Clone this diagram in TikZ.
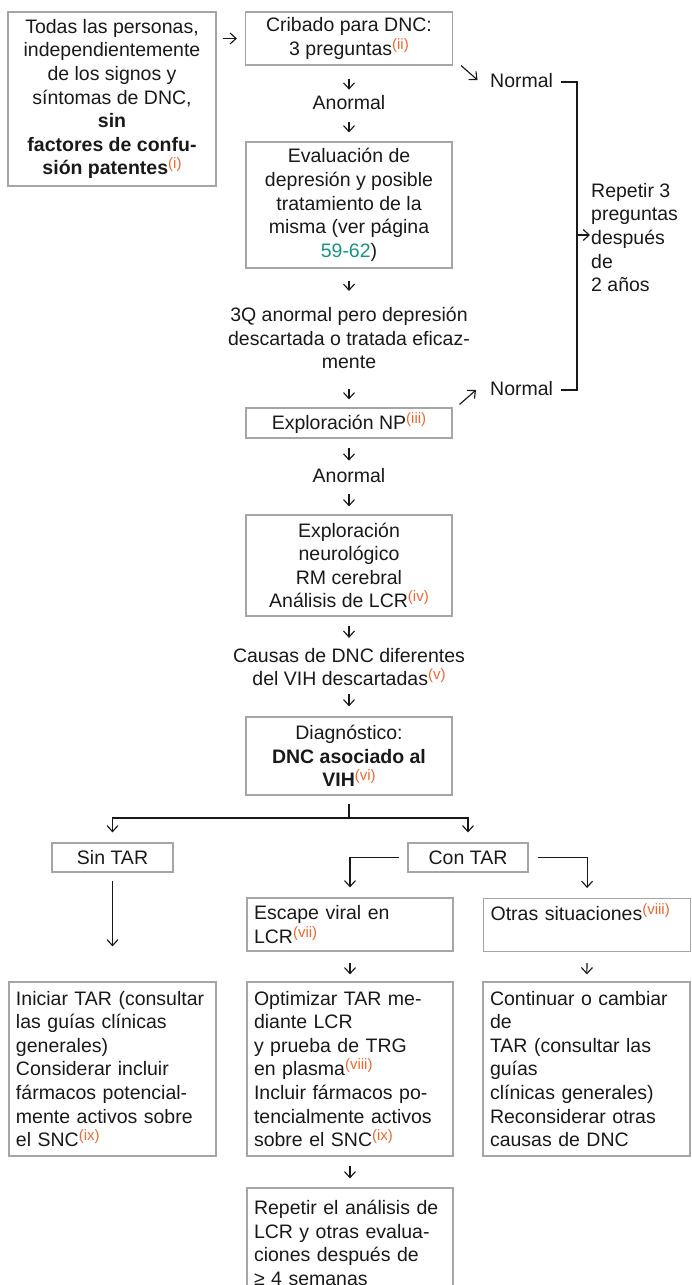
\documentclass[tikz,border=0pt]{standalone}
\usepackage{fontspec}
\setmainfont{Liberation Sans}
\usetikzlibrary{arrows.meta}

\definecolor{boxgray}{RGB}{165,165,165}
\definecolor{ink}{RGB}{25,25,25}
\definecolor{noteorange}{RGB}{238,104,45}
\definecolor{pageteal}{RGB}{22,150,128}

% raised, coloured footnote marker
\newcommand\noteref[1]{\raisebox{6pt}{\fontsize{15}{15}\selectfont\color{noteorange}#1}}

\begin{document}
\begin{tikzpicture}[x=1pt, y=-1pt,
  every node/.style={font=\fontsize{19.5}{23.6}\selectfont, text=ink},
  box/.style={draw=boxgray, line width=1.2pt, inner sep=0pt},
  cbox/.style={box, align=center},
  lbox/.style={box, align=left, inner xsep=7pt, inner ysep=0pt, text width=#1},
  plain/.style={inner sep=0pt, align=center},
  conn/.style={draw=ink, line width=1.15pt},
  arr/.style={conn, -{Straight Barb[length=6pt,width=11pt]}},
]
\useasboundingbox (0,0) rectangle (691,1285);

% ---------- screening and work-up column ----------
\node[cbox, minimum width=208pt, minimum height=174pt] (all) at (112,99)
  {Todas las personas,\\independientemente\\de los signos y\\síntomas de DNC,\\\textbf{sin}\\\textbf{factores de confu-}\\\textbf{sión patentes}\noteref{(i)}};
\node[cbox, minimum width=207pt, minimum height=53pt] (screen) at (349,38.5)
  {Cribado para DNC:\\3 preguntas\noteref{(ii)}};
\node[plain] (abn1) at (349,103) {Anormal};
\node[cbox, minimum width=206pt, minimum height=126pt] (depr) at (349,205)
  {Evaluación de\\depresión y posible\\tratamiento de la\\misma (ver página\\{\color{pageteal}59-62})};
\node[plain] (ruled) at (349,338)
  {3Q anormal pero depresión\\descartada o tratada eficaz-\\mente};
\node[cbox, minimum width=206pt, minimum height=30pt] (np) at (349,423)
  {Exploración NP\noteref{(iii)}};
\node[plain] (abn2) at (349,476) {Anormal};
\node[cbox, minimum width=206pt, minimum height=101pt] (neuro) at (349,565.5)
  {Exploración\\neurológico\\RM cerebral\\Análisis de LCR\noteref{(iv)}};
\node[plain] (other) at (349,667)
  {Causas de DNC diferentes\\del VIH descartadas\noteref{(v)}};
\node[cbox, minimum width=206pt, minimum height=78pt] (diag) at (349,756)
  {Diagnóstico:\\\textbf{DNC asociado al}\\\textbf{VIH}\noteref{(vi)}};

% ---------- normal results and repeat loop ----------
\node[inner sep=0pt, anchor=base west] (norm1) at (490,87) {Normal};
\node[inner sep=0pt, anchor=base west] (norm2) at (490,395) {Normal};
\node[inner sep=0pt, anchor=north west, align=left] (again) at (591,183)
  {Repetir 3\\preguntas\\después\\de\\2 años};
\coordinate (bx) at (577,235);
\coordinate (tonorm1) at (477.5,80);
\coordinate (fromnp) at (476,390);

% ---------- treatment branches ----------
\coordinate (split) at (349,818);
\node[cbox, minimum width=121pt, minimum height=29pt] (noart) at (112.5,857.5) {Sin TAR};
\node[cbox, minimum width=120pt, minimum height=29pt] (onart) at (468,857.5) {Con TAR};
\node[lbox=192pt, minimum height=53pt] (escape) at (350,924.5)
  {Escape viral en\\LCR\noteref{(vii)}};
\node[lbox=193pt, anchor=north west, text height=22pt, text depth=31pt] (others) at (483,898)
  {Otras situaciones\noteref{(viii)}};

\node[lbox=193pt, minimum height=174pt] (start) at (112.5,1069)
  {Iniciar TAR (consultar\\las guías clínicas\\generales)\\Considerar incluir\\fármacos potencial-\\mente activos sobre\\el SNC\noteref{(ix)}};
\node[lbox=192pt, minimum height=174pt] (optim) at (350,1069)
  {Optimizar TAR me-\\diante LCR\\y prueba de TRG\\en plasma\noteref{(viii)}\\Incluir fármacos po-\\tencialmente activos\\sobre el SNC\noteref{(ix)}};
\node[lbox=193pt, minimum height=174pt] (cont) at (586.5,1069)
  {Continuar o cambiar\\de\\TAR (consultar las\\guías\\clínicas generales)\\Reconsiderar otras\\causas de DNC};
\node[lbox=192pt, minimum height=110pt] (recheck) at (350,1243)
  {Repetir el análisis de\\LCR y otras evalua-\\ciones después de\\≥ 4 semanas};

% ---------- connectors ----------
\draw[arr, shorten <=6pt, shorten >=8pt] (all.east |- screen.west) -- (screen.west);
\draw[arr, shorten <=13pt, shorten >=6pt] (screen) -- (abn1);
\draw[arr, shorten <=12pt, shorten >=9pt] (abn1) -- (depr);
\draw[arr, shorten <=12pt, shorten >=16pt] (depr) -- (ruled);
\draw[arr, shorten <=20pt, shorten >=8pt] (ruled) -- (np);
\draw[arr, shorten <=9pt, shorten >=8pt] (np) -- (abn2);
\draw[arr, shorten <=11pt, shorten >=8pt] (abn2) -- (neuro);
\draw[arr, shorten <=9pt, shorten >=10pt] (neuro) -- (other);
\draw[arr, shorten <=8pt, shorten >=10pt] (other) -- (diag);

\draw[arr] ([xshift=8pt]screen.south east) -- (tonorm1);
\draw[arr] ([xshift=7pt,yshift=3pt]np.north east) -- (fromnp);
\draw[conn] ([xshift=8pt,yshift=-2pt]norm1.east) -| (bx) |- ([xshift=8pt,yshift=-2pt]norm2.east);
\draw[arr, shorten >=1pt] (bx) -- (bx -| again.west);

\draw[conn, shorten <=8pt] (diag) -- (split);
\draw[arr, shorten >=10pt] (split) -| (noart);
\draw[arr, shorten >=10pt] (split) -| (onart);
\draw[arr, shorten <=8pt, shorten >=10pt] (onart.west) -| (escape);
\draw[arr, shorten <=9pt, shorten >=10pt] (onart.east) -| (others);
\draw[arr, shorten <=8pt, shorten >=35pt] (noart) -- (start);
\draw[arr, shorten <=11pt, shorten >=7pt] (escape) -- (optim);
\draw[arr, shorten <=11pt, shorten >=7pt] (others) -- (cont);
\draw[arr, shorten <=9pt, shorten >=9pt] (optim) -- (recheck);
\end{tikzpicture}
\end{document}
